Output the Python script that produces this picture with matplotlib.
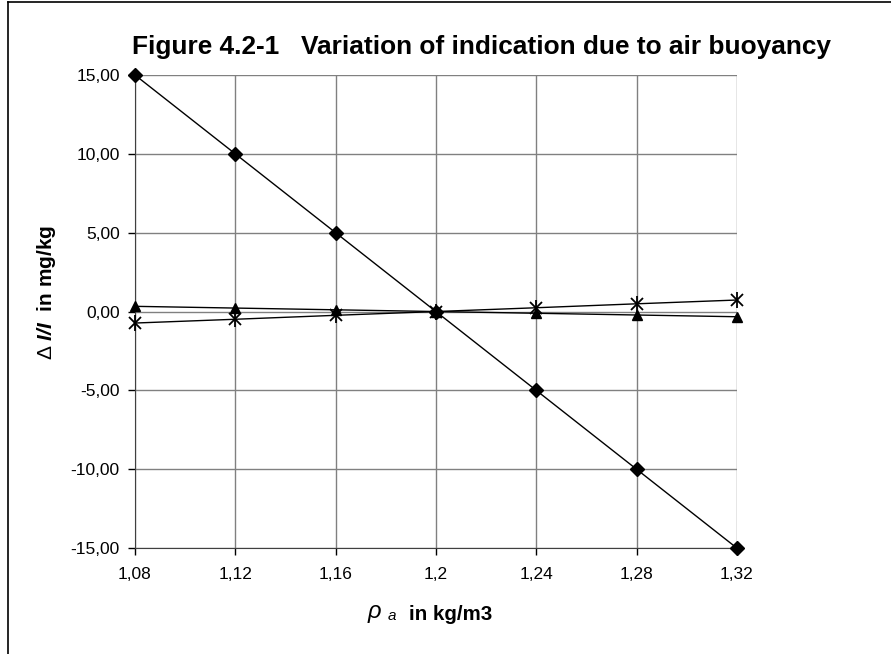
import numpy as np
import matplotlib.pyplot as plt
from matplotlib.lines import Line2D

plt.rcParams['font.family'] = 'Liberation Sans'
plt.rcParams['mathtext.fontset'] = 'custom'
plt.rcParams['mathtext.rm'] = 'Liberation Sans'
plt.rcParams['mathtext.it'] = 'Liberation Sans:italic'
plt.rcParams['mathtext.bf'] = 'Liberation Sans:bold'
plt.rcParams['mathtext.bfit'] = 'Liberation Sans:italic:bold'

# data
rho_a = [1.08, 1.12, 1.16, 1.20, 1.24, 1.28, 1.32]
series_diamond = [15.0, 10.0, 5.0, 0.0, -5.0, -10.0, -15.0]
series_triangle = [0.33, 0.22, 0.11, 0.0, -0.11, -0.22, -0.33]
series_star = [-0.73, -0.49, -0.24, 0.0, 0.24, 0.49, 0.73]
xtick_labels = ['1,08', '1,12', '1,16', '1,2', '1,24', '1,28', '1,32']
yticks = [15, 10, 5, 0, -5, -10, -15]

fig = plt.figure(figsize=(8.91, 6.54), dpi=100)
ax = fig.add_axes([0.1515, 0.162, 0.827 - 0.1515, 0.8853 - 0.162])

ax.plot(rho_a, series_diamond, color='black', lw=1, marker='D', ms=7, zorder=5, clip_on=False)
ax.plot(rho_a, series_triangle, color='black', lw=1, marker='^', ms=7, zorder=4, clip_on=False)
ax.plot(rho_a, series_star, color='black', lw=1, marker='x', ms=9, mew=1.3, zorder=4, clip_on=False)
ax.plot(rho_a, series_star, ls='none', color='black', marker='|', ms=11, mew=1.3, zorder=4, clip_on=False)

ax.set_xlim(1.08, 1.32)
ax.set_ylim(-15, 15)
ax.set_xticks(rho_a)
ax.set_xticklabels(xtick_labels)
ax.set_yticks(yticks)
ax.set_yticklabels([('%.2f' % v).replace('.', ',') for v in yticks])
ax.tick_params(axis='both', length=5, width=1, direction='out', labelsize=12.5)
ax.tick_params(axis='x', pad=9)
ax.tick_params(axis='y', pad=6)
ax.grid(True, color='#808080', lw=1)
ax.set_axisbelow(True)
ax.spines['top'].set_visible(False)
ax.spines['right'].set_visible(False)
ax.spines['left'].set_color('#404040')
ax.spines['bottom'].set_color('#404040')

fig.text(47/891, 1 - 292/654, r'$\Delta\ \mathbfit{I/I}$  in mg/kg', rotation=90,
         ha='center', va='center', fontsize=15, fontweight='bold')
fig.text(367/891, 1 - 614/654, r'$\mathit{\rho}$', ha='left', va='center', fontsize=17)
fig.text(387/891, 1 - 616/654, r'$\mathit{a}$', ha='left', va='center', fontsize=11)
fig.text(409/891, 1 - 614/654, 'in kg/m3', ha='left', va='center', fontsize=14.8, fontweight='bold')

fig.text(482/891, 1 - 47/654, 'Figure 4.2-1   Variation of indication due to air buoyancy',
         ha='center', va='center', fontsize=18.9, fontweight='bold')

fig.add_artist(Line2D([8/891, 1.0], [1 - 2/654, 1 - 2/654], color='black', lw=1.2))
fig.add_artist(Line2D([8/891, 8/891], [0, 1 - 2/654], color='black', lw=1.2))

fig.savefig('out.png', dpi=100)
